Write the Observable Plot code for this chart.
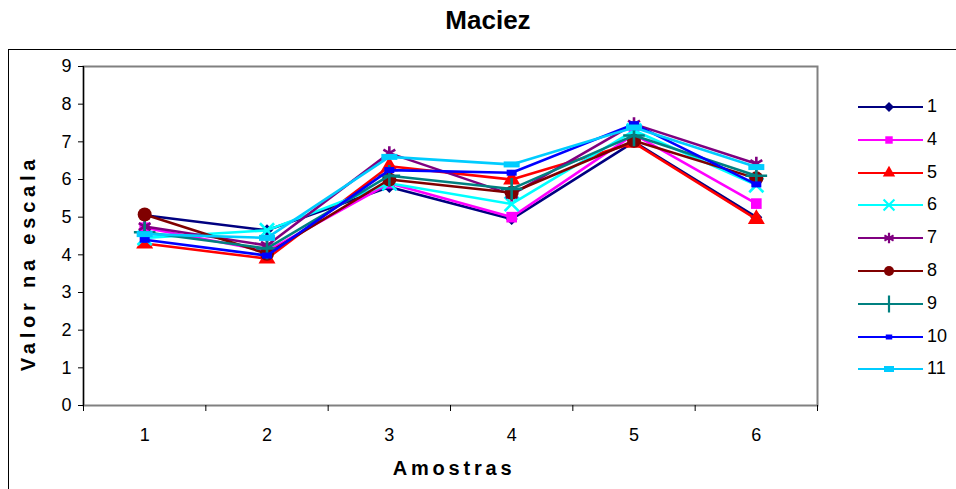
<!DOCTYPE html>
<html>
<head>
<meta charset="utf-8">
<script src="https://cdn.jsdelivr.net/npm/d3@7"></script>
<script src="https://cdn.jsdelivr.net/npm/@observablehq/plot@0.6"></script>
<style>
  html, body { margin: 0; padding: 0; background: #fff; }
  body { width: 956px; height: 489px; overflow: hidden; position: relative; font-family: "Liberation Sans", Arial, sans-serif; }
  #border { position: absolute; left: 8px; top: 49px; width: 1000px; height: 600px; border: 1px solid #000; box-sizing: border-box; }
  #title { position: absolute; left: 0; width: 976px; top: 5px; text-align: center; font-weight: bold; font-size: 26px; }
  #ylab { position: absolute; left: 28px; top: 263px; transform: translate(-50%, -50%) rotate(-90deg); font-weight: bold; font-size: 20px; letter-spacing: 4.8px; white-space: nowrap; }
  #xlab { position: absolute; left: 454px; top: 468px; transform: translate(-50%, -50%); font-weight: bold; font-size: 20px; letter-spacing: 3.8px; white-space: nowrap; }
  #chart { position: absolute; left: 0; top: 0; }
  #legend { position: absolute; left: 857px; top: 98px; }
  .row { position: relative; height: 32.8px; }
  .row svg { position: absolute; left: 0; top: 0; }
  .row span { position: absolute; left: 70px; top: -2px; font-size: 18px; }
</style>
</head>
<body>
<div id="border"></div>
<div id="chart"></div>
<div id="title">Maciez</div>
<div id="ylab">Valor na escala</div>
<div id="xlab">Amostras</div>
<div id="legend"></div>
<script>
// ---- data ----
const samples = [1, 2, 3, 4, 5, 6];
const yTicks = [0, 1, 2, 3, 4, 5, 6, 7, 8, 9];
const seriesNames = ["1", "4", "5", "6", "7", "8", "9", "10", "11"];
const s1  = [5.05, 4.65, 5.80, 4.95, 7.00, 5.00];
const s4  = [4.72, 4.10, 5.90, 5.00, 7.20, 5.36];
const s5  = [4.30, 3.90, 6.35, 6.00, 6.97, 4.95];
const s6  = [4.45, 4.65, 5.90, 5.35, 7.30, 5.85];
const s7  = [4.75, 4.25, 6.70, 5.60, 7.47, 6.42];
const s8  = [5.07, 4.03, 6.00, 5.65, 7.03, 6.03];
const s9  = [4.60, 4.17, 6.10, 5.75, 7.17, 6.10];
const s10 = [4.40, 3.98, 6.25, 6.18, 7.47, 5.87];
const s11 = [4.55, 4.45, 6.60, 6.40, 7.38, 6.33];
const seriesValues = [s1, s4, s5, s6, s7, s8, s9, s10, s11];
const colors = ["#000080", "#FF00FF", "#FF0000", "#00FFFF", "#800080", "#800000", "#008080", "#0000FF", "#00CCFF"];

// ---- symbols ----
function rectSymbol(w, h) { return { draw(ctx) { ctx.rect(-w / 2, -h / 2, w, h); } }; }
function diamondSymbol(hw) { return { draw(ctx) { ctx.moveTo(0, -hw); ctx.lineTo(hw, 0); ctx.lineTo(0, hw); ctx.lineTo(-hw, 0); ctx.closePath(); } }; }
const styles = [
  { symbol: diamondSymbol(6), legendSymbol: diamondSymbol(5), r: 5, filled: true, lr: 3 },
  { symbol: "square", r: 6, filled: true, lr: 4.2 },
  { symbol: "triangle", r: 6.3, filled: true, lr: 4.6 },
  { symbol: "times", r: 6.5, filled: false, lr: 5 },
  { symbol: "asterisk", r: 6.5, filled: false, lr: 5 },
  { symbol: "circle", r: 7, filled: true, lr: 5 },
  { symbol: "plus", r: 7, filled: false, lr: 5.5 },
  { symbol: rectSymbol(10, 6), legendSymbol: rectSymbol(6.5, 5), r: 5, filled: true, lr: 3 },
  { symbol: rectSymbol(16, 6), legendSymbol: rectSymbol(10, 6), r: 5, filled: true, lr: 3 }
];

// ---- chart ----
const marks = [
  Plot.frame({ stroke: "#808080", strokeWidth: 2 }),
  Plot.ruleX([0.5], { stroke: "#000", strokeWidth: 1.2 }),
  Plot.axisY({ ticks: yTicks, tickSize: 5, tickPadding: 7, fontSize: 18, label: null, tickFormat: d3.format("d") }),
  Plot.axisX({ ticks: samples, tickSize: 0, tickPadding: 23, fontSize: 18, label: null, tickFormat: d3.format("d") }),
  Plot.axisX({ ticks: [0.5, 1.5, 2.5, 3.5, 4.5, 5.5, 6.5], tickSize: 6, tickFormat: () => "", label: null })
];
seriesValues.forEach((vals, i) => {
  const data = samples.map((s, j) => ({ x: s, y: vals[j] }));
  const st = styles[i];
  marks.push(Plot.line(data, { x: "x", y: "y", stroke: colors[i], strokeWidth: 2.6 }));
  marks.push(Plot.dot(data, st.filled
    ? { x: "x", y: "y", symbol: () => st.symbol, r: st.r, fill: colors[i], stroke: "none" }
    : { x: "x", y: "y", symbol: () => st.symbol, r: st.r, fill: "none", stroke: colors[i], strokeWidth: 2.6 }));
});

const chart = Plot.plot({
  width: 956, height: 489,
  marginLeft: 83, marginRight: 139, marginTop: 66, marginBottom: 84,
  style: { fontFamily: "'Liberation Sans', Arial, sans-serif", fontSize: "18px", color: "#000", background: "transparent", overflow: "visible" },
  x: { type: "linear", domain: [0.5, 6.5] },
  y: { domain: [0, 9] },
  symbol: { type: "identity" },
  marks
});
d3.select(chart).selectAll("g[aria-label$='tick label']").attr("font-size", 18).style("font-size", "18px");
document.getElementById("chart").appendChild(chart);

// ---- legend ----
const legend = d3.select("#legend");
seriesNames.forEach((name, i) => {
  const st = styles[i];
  const row = legend.append("div").attr("class", "row");
  const svg = row.append("svg").attr("width", 70).attr("height", 20);
  svg.append("line").attr("x1", 1).attr("x2", 66).attr("y1", 9).attr("y2", 9).attr("stroke", colors[i]).attr("stroke-width", 2.2);
  let sym = st.legendSymbol || st.symbol;
  const typeMap = { square: d3.symbolSquare, triangle: d3.symbolTriangle, times: d3.symbolTimes, asterisk: d3.symbolAsterisk, circle: d3.symbolCircle, plus: d3.symbolPlus };
  if (typeof sym === "string") sym = typeMap[sym];
  const path = d3.symbol(sym, Math.PI * st.lr * st.lr)();
  const p = svg.append("path").attr("d", path).attr("transform", "translate(32,9)");
  if (st.filled) p.attr("fill", colors[i]); else p.attr("fill", "none").attr("stroke", colors[i]).attr("stroke-width", 2.2);
  row.append("span").text(name);
});
</script>
</body>
</html>
